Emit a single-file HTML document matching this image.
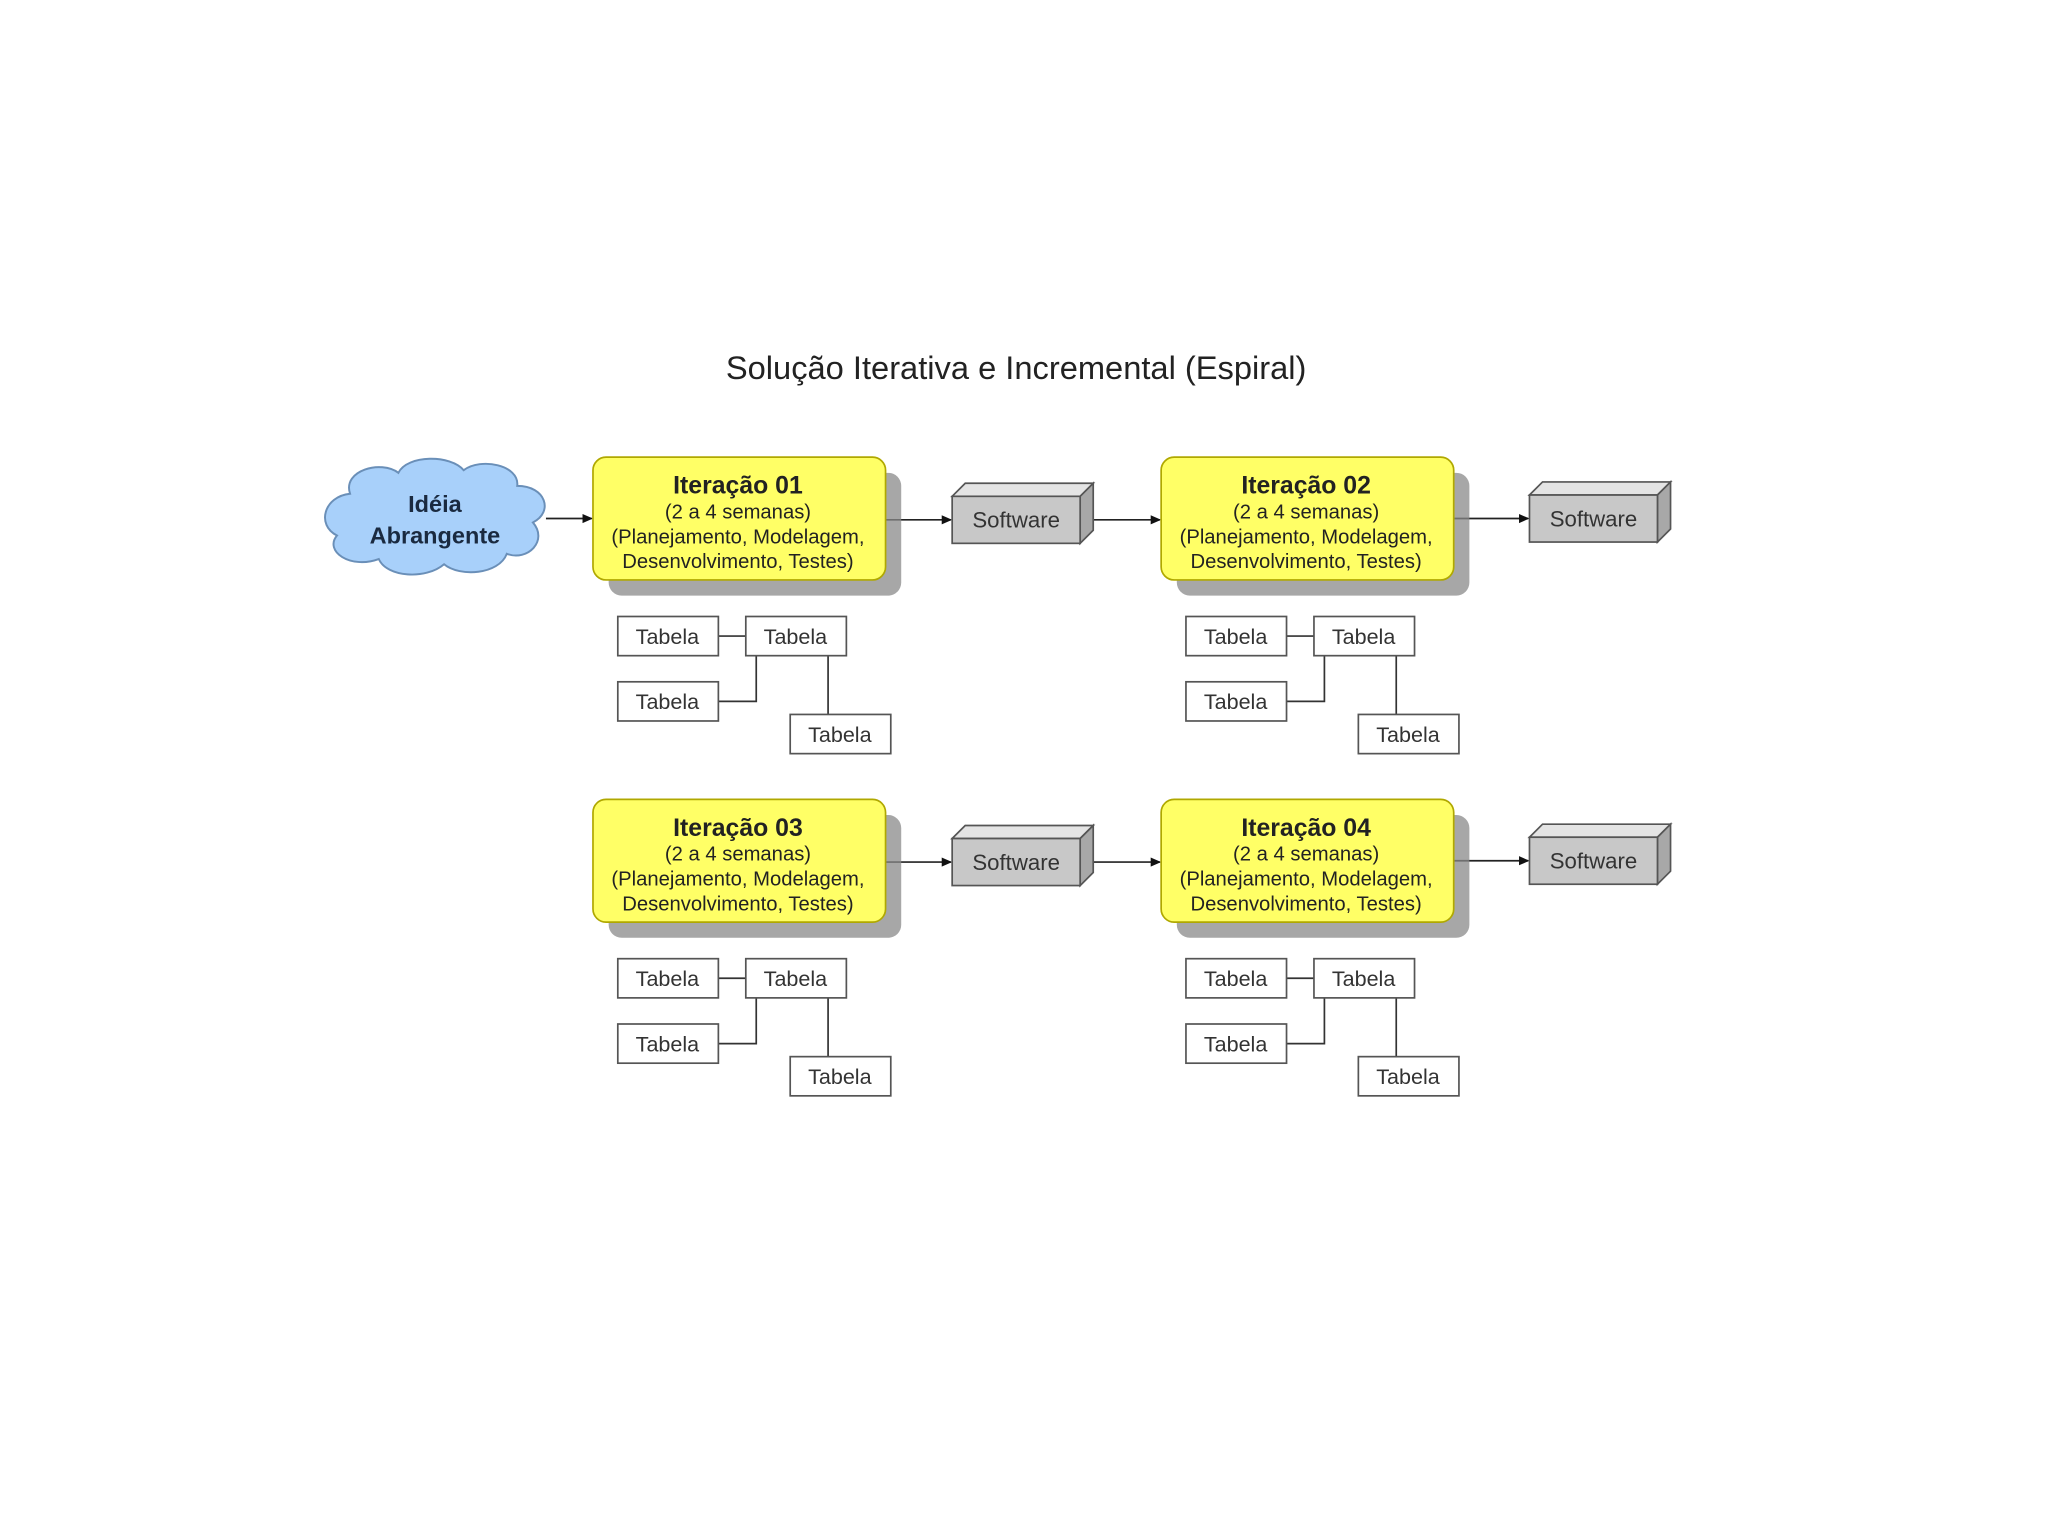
<!DOCTYPE html>
<html><head><meta charset="utf-8"><style>
html,body{margin:0;padding:0;background:#fff;}
svg{display:block;}
text{font-family:"Liberation Sans",sans-serif;}
</style></head><body>
<svg width="2048" height="1536" viewBox="0 0 1568 1176" xmlns="http://www.w3.org/2000/svg">
<defs>
<marker id="ar" markerWidth="8" markerHeight="8" refX="7" refY="4" orient="auto" markerUnits="userSpaceOnUse"><path d="M0,0.5 L8,4 L0,7.5 z" fill="#111"/></marker>
<g id="tables">
  <line x1="550" y1="487" x2="571" y2="487" stroke="#333" stroke-width="1.3"/>
  <polyline points="550,537 579,537 579,502" fill="none" stroke="#333" stroke-width="1.3"/>
  <line x1="634" y1="547" x2="634" y2="502" stroke="#333" stroke-width="1.3"/>
  <rect x="473" y="472" width="77" height="30" fill="#fff" stroke="#555" stroke-width="1.3"/>
  <rect x="571" y="472" width="77" height="30" fill="#fff" stroke="#555" stroke-width="1.3"/>
  <rect x="473" y="522" width="77" height="30" fill="#fff" stroke="#555" stroke-width="1.3"/>
  <rect x="605" y="547" width="77" height="30" fill="#fff" stroke="#555" stroke-width="1.3"/>
</g>
<g id="sw">
  <path d="M729,380 L739,370 L837,370 L827,380 z" fill="#e4e4e4" stroke="#555" stroke-width="1.3"/>
  <path d="M827,380 L837,370 L837,406 L827,416 z" fill="#a8a8a8" stroke="#555" stroke-width="1.3"/>
  <rect x="729" y="380" width="98" height="36" fill="#c8c8c8" stroke="#555" stroke-width="1.3"/>
</g>
<g id="box">
  <rect x="466" y="362" width="224" height="94" rx="10" fill="#8a8a8a" opacity="0.75"/>
  <rect x="454" y="350" width="224" height="94" rx="10" fill="#ffff66" stroke="#b0a800" stroke-width="1.3"/>
</g>
</defs>
<rect width="1568" height="1176" fill="#fff"/>
<text x="778" y="290" font-size="25" text-anchor="middle" fill="#222">Solução Iterativa e Incremental (Espiral)</text>

<!-- cloud -->
<path d="M268,378 C262,360 292,352 305,362 C312,348 345,348 355,360 C368,350 398,356 396,372 C418,372 424,392 408,400 C420,414 404,430 388,424 C382,440 352,442 340,432 C326,444 296,442 290,428 C268,436 248,422 258,410 C242,402 248,380 268,378 z" fill="#a8d0fa" stroke="#6a8fb8" stroke-width="1.5"/>
<text x="333" y="392" font-size="18" font-weight="bold" text-anchor="middle" fill="#1a2a40">Idéia</text>
<text x="333" y="416" font-size="18" font-weight="bold" text-anchor="middle" fill="#1a2a40">Abrangente</text>

<!-- arrows -->
<g stroke="#222" stroke-width="1.3" fill="none" marker-end="url(#ar)">
<line x1="418" y1="397" x2="453" y2="397"/>
<line x1="678" y1="398" x2="728" y2="398"/>
<line x1="837" y1="398" x2="888" y2="398"/>
<line x1="1113" y1="397" x2="1170" y2="397"/>
<line x1="678" y1="660" x2="728" y2="660"/>
<line x1="837" y1="660" x2="888" y2="660"/>
<line x1="1113" y1="659" x2="1170" y2="659"/>
</g>

<!-- boxes -->
<use href="#box"/>
<use href="#box" transform="translate(435,0)"/>
<use href="#box" transform="translate(0,262)"/>
<use href="#box" transform="translate(435,262)"/>
<use href="#sw"/>
<use href="#sw" transform="translate(442,-1)"/>
<use href="#sw" transform="translate(0,262)"/>
<use href="#sw" transform="translate(442,261)"/>
<use href="#tables"/>
<use href="#tables" transform="translate(435,0)"/>
<use href="#tables" transform="translate(0,262)"/>
<use href="#tables" transform="translate(435,262)"/>

<g fill="#222" text-anchor="middle">
<text x="565" y="378" font-size="19" font-weight="bold">Iteração 01</text>
<text x="565" y="397" font-size="15.5">(2 a 4 semanas)</text>
<text x="565" y="416" font-size="15.5">(Planejamento, Modelagem,</text>
<text x="565" y="435" font-size="15.5">Desenvolvimento, Testes)</text>
<text x="1000" y="378" font-size="19" font-weight="bold">Iteração 02</text>
<text x="1000" y="397" font-size="15.5">(2 a 4 semanas)</text>
<text x="1000" y="416" font-size="15.5">(Planejamento, Modelagem,</text>
<text x="1000" y="435" font-size="15.5">Desenvolvimento, Testes)</text>
<text x="565" y="640" font-size="19" font-weight="bold">Iteração 03</text>
<text x="565" y="659" font-size="15.5">(2 a 4 semanas)</text>
<text x="565" y="678" font-size="15.5">(Planejamento, Modelagem,</text>
<text x="565" y="697" font-size="15.5">Desenvolvimento, Testes)</text>
<text x="1000" y="640" font-size="19" font-weight="bold">Iteração 04</text>
<text x="1000" y="659" font-size="15.5">(2 a 4 semanas)</text>
<text x="1000" y="678" font-size="15.5">(Planejamento, Modelagem,</text>
<text x="1000" y="697" font-size="15.5">Desenvolvimento, Testes)</text>
</g>
<g fill="#333" text-anchor="middle" font-size="17">
<text x="778" y="404">Software</text>
<text x="1220" y="403">Software</text>
<text x="778" y="666">Software</text>
<text x="1220" y="665">Software</text>
</g>
<g fill="#333" text-anchor="middle" font-size="16.5">
<text x="511" y="493">Tabela</text><text x="609" y="493">Tabela</text><text x="511" y="543">Tabela</text><text x="643" y="568">Tabela</text>
<text x="946" y="493">Tabela</text><text x="1044" y="493">Tabela</text><text x="946" y="543">Tabela</text><text x="1078" y="568">Tabela</text>
<text x="511" y="755">Tabela</text><text x="609" y="755">Tabela</text><text x="511" y="805">Tabela</text><text x="643" y="830">Tabela</text>
<text x="946" y="755">Tabela</text><text x="1044" y="755">Tabela</text><text x="946" y="805">Tabela</text><text x="1078" y="830">Tabela</text>
</g>
</svg>
</body></html>
